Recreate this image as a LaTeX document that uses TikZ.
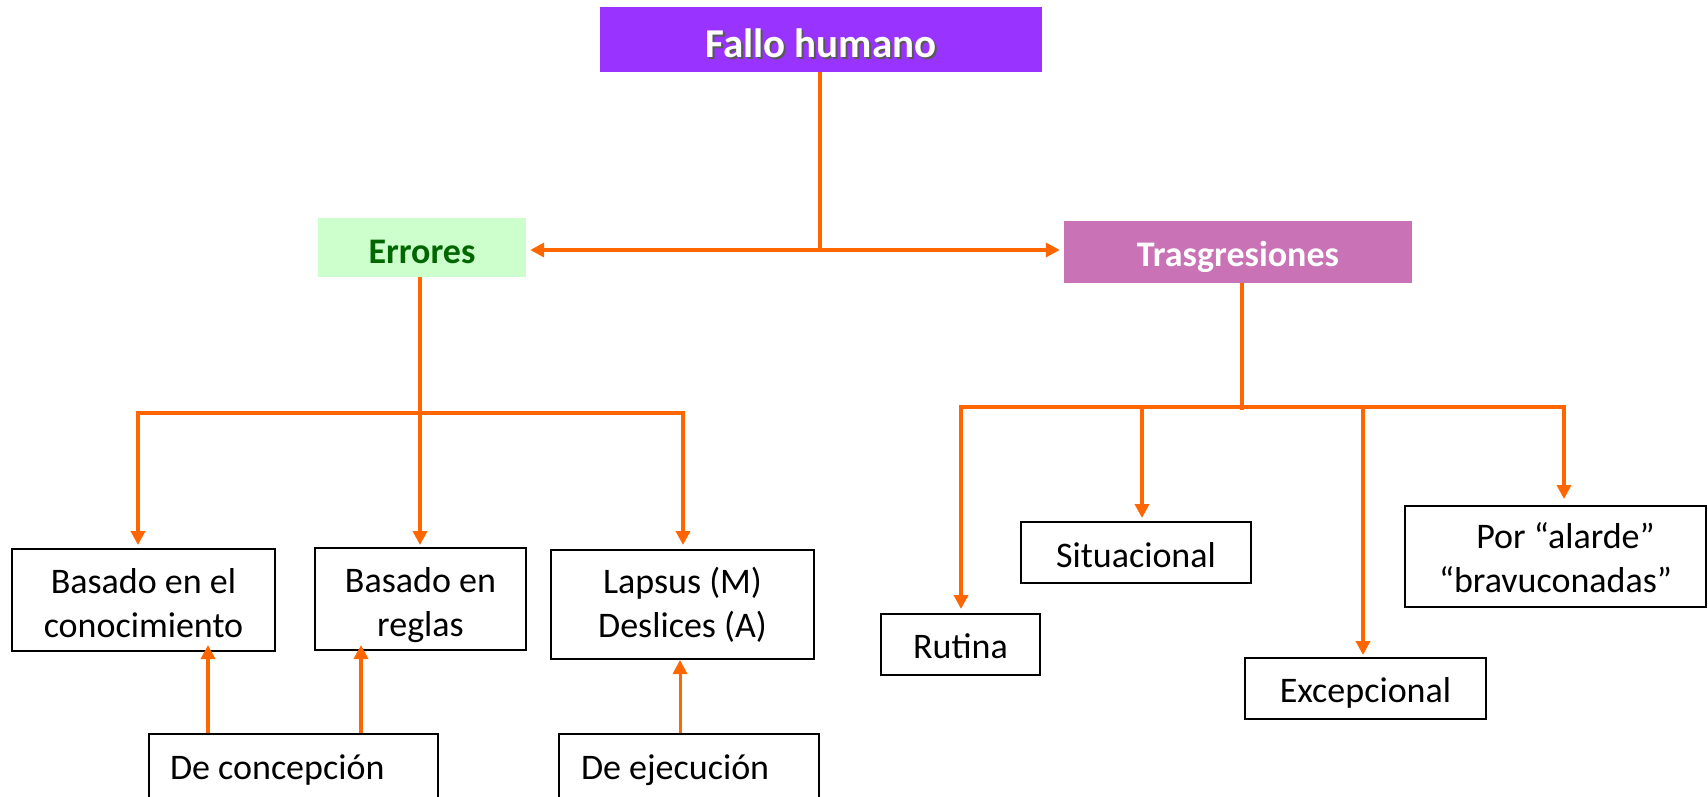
\documentclass[tikz,border=0pt]{standalone}
\usepackage{fontspec}
\setmainfont{Carlito}
\usetikzlibrary{arrows.meta}
\definecolor{orng}{HTML}{FF6600}
\definecolor{purp}{HTML}{9933FF}
\definecolor{lgreen}{HTML}{CCFFCC}
\definecolor{dgreen}{HTML}{006600}
\definecolor{orchid}{HTML}{C972B5}
\newcommand{\twolines}[2]{\begin{tabular}[t]{@{}c@{}}#1\\#2\end{tabular}}
\begin{document}
\begin{tikzpicture}[x=1pt,y=-1pt,
  oline/.style={draw=orng, line width=3.5pt},
  arr/.style={oline, -{Triangle[length=14pt,width=14pt]}},
  darr/.style={oline, {Triangle[length=14pt,width=14pt]}-{Triangle[length=14pt,width=14pt]}},
  box/.style={draw=black, line width=2pt, rectangle, inner sep=0pt,
    font=\fontsize{36}{44}\selectfont},
  onel/.style={box, text height=27pt, text depth=0pt},
  twol/.style={box, text height=34pt, text depth=48pt},
  hdr/.style={rectangle, inner sep=0pt, align=center, text=white, text depth=0pt},
  openbox/.style={draw=black, line width=2pt, rectangle, inner ysep=0pt,
    anchor=north west, text height=45pt, text depth=80pt,
    font=\fontsize{36}{44}\selectfont}]
\useasboundingbox (0,0) rectangle (1708,797);

% header nodes
\node[hdr, fill=purp, minimum width=442, minimum height=65, text height=37pt,
  font=\fontsize{41}{48}\bfseries] (fh) at (821,39.5)
  {\makebox[0pt][l]{\raisebox{-2pt}[0pt][0pt]{\hspace*{2pt}\color{black!65}Fallo humano}}Fallo humano};
\node[hdr, fill=lgreen, text=dgreen, minimum width=208, minimum height=59, text height=31pt,
  font=\fontsize{36}{44}\bfseries] (err) at (422,247.5) {Errores};
\node[hdr, fill=orchid, minimum width=348, minimum height=62, text height=28pt,
  font=\fontsize{36}{44}\bfseries] (tr) at (1238,252) {Trasgresiones};

% error boxes
\node[twol, minimum width=263, minimum height=102] (b1) at (143.5,600)
  {\twolines{Basado en el}{conocimiento}};
\node[twol, minimum width=211, minimum height=102] (b2) at (420.5,599)
  {\twolines{Basado en}{reglas}};
\node[twol, minimum width=263, minimum height=109, text height=30pt, text depth=53pt] (b3) at (682.5,604.5)
  {\twolines{Lapsus (M)}{Deslices (A)}};
\node[openbox, inner xsep=0pt, minimum width=289] (dc) at (148,733)
  {\makebox[289pt][l]{\hspace*{21pt}De concepción}};
\node[openbox, inner xsep=0pt, minimum width=260] (de) at (558,733)
  {\makebox[260pt][l]{\hspace*{22pt}De ejecución}};

% trasgresion boxes
\node[onel, minimum width=159, minimum height=61] (ru) at (960.5,644.5) {Rutina};
\node[onel, minimum width=230, minimum height=61, text height=29pt] (si) at (1136,552.5) {Situacional};
\node[onel, minimum width=241, minimum height=61] (ex) at (1365.5,688.5) {Excepcional};
\node[twol, minimum width=301, minimum height=101, text height=32pt, text depth=49pt] (pa) at (1555.5,556.5)
  {\twolines{\hspace*{20pt}Por “alarde”}{“bravuconadas”}};

% top connectors
\coordinate (j0) at (820,250);
\draw[oline] (fh.south -| j0) -- (j0);
\draw[darr, shorten <=4pt, shorten >=4pt] (err.east |- j0) -- (tr.west |- j0);

% errores branches
\coordinate (e0) at (420,413);
\coordinate (e1) at (138,413);
\coordinate (e3) at (683,413);
\draw[arr, shorten >=2pt] (err.south -| e0) -- (b2.north -| e0);
\draw[arr, shorten >=3pt] (e0) -- (e1) -- (b1.north -| e1);
\draw[arr, shorten >=4pt] (e0) -- (e3) -- (b3.north -| e3);

% bottom arrows
\coordinate (u1) at (208,733);
\coordinate (u2) at (361,733);
\coordinate (u3) at (680,733);
\draw[arr, shorten >=-7pt] (dc.north -| u1) -- (b1.south -| u1);
\draw[arr, shorten >=-6pt] (dc.north -| u2) -- (b2.south -| u2);
\draw[arr, line width=3pt] (de.north -| u3) -- (b3.south -| u3);

% trasgresiones branches
\coordinate (t0) at (1242,407);
\coordinate (t1) at (961,407);
\coordinate (t2) at (1142,407);
\coordinate (t3) at (1363,407);
\coordinate (t4) at (1564,407);
\draw[oline] (tr.south -| t0) -- ([yshift=-3pt]t0);
\draw[arr, shorten >=4pt] (t0) -- (t1) -- (ru.north -| t1);
\draw[arr, shorten >=6pt] (t0) -- (t4) -- (pa.north -| t4);
\draw[arr, shorten >=3pt] (t2) -- (si.north -| t2);
\draw[arr, shorten >=2pt] (t3) -- (ex.north -| t3);
\end{tikzpicture}
\end{document}
